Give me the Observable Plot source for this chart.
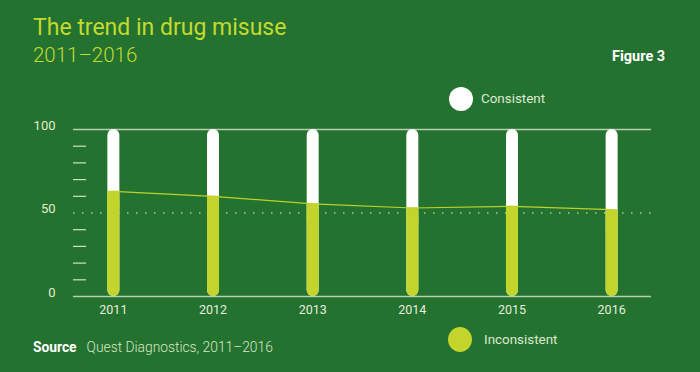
<!DOCTYPE html>
<html>
<head>
<meta charset="utf-8">
<script src="https://cdn.jsdelivr.net/npm/d3@7"></script>
<script src="https://cdn.jsdelivr.net/npm/@observablehq/plot@0.6"></script>
<style>
  html, body { margin: 0; padding: 0; }
  body { width: 700px; height: 372px; overflow: hidden; }
  #wrap { position: relative; width: 700px; height: 372px; background: #23722f; font-family: Roboto, "Noto Sans", sans-serif; }
  #chart { position: absolute; left: 0; top: 0; }
  .abs { position: absolute; white-space: nowrap; }
  #title { left: 33px; top: 15px; font-size: 23px; color: #c5d930; line-height: 26px; }
  #subtitle { left: 33px; top: 42px; font-size: 20.5px; font-weight: 300; color: #c5d930; line-height: 26px; }
  #fig { left: 612px; top: 48px; font-size: 14.5px; font-weight: 700; color: #ffffff; line-height: 18px; }
  #source { left: 33px; top: 338px; font-size: 13.8px; color: #d9e6c6; line-height: 18px; }
  #source b { color: #ffffff; font-weight: 700; margin-right: 10px; }
  #source span { font-weight: 300; }
  .leg { font-size: 13.4px; color: #dfe9d2; line-height: 16px; }
  .dot { position: absolute; border-radius: 50%; }
</style>
</head>
<body>
<div id="wrap">
  <div id="chart"></div>
  <div id="title" class="abs">The trend in drug misuse</div>
  <div id="subtitle" class="abs">2011–2016</div>
  <div id="fig" class="abs">Figure 3</div>
  <div class="dot" style="left:449px;top:87px;width:24px;height:24px;background:#ffffff"></div>
  <div class="abs leg" style="left:481px;top:91px">Consistent</div>
  <div class="dot" style="left:448px;top:327px;width:24px;height:25px;background:#c3d52c"></div>
  <div class="abs leg" style="left:484px;top:332px">Inconsistent</div>
  <div id="source" class="abs"><b>Source</b><span>Quest Diagnostics, 2011–2016</span></div>
</div>
<script>
const years = [2011, 2012, 2013, 2014, 2015, 2016];
const inconsistent = [63, 60, 55.5, 53, 54, 52];
const axisLabels = [0, 50, 100];
const minorTicks = [10, 20, 30, 40, 60, 70, 80, 90];

const data = years.map((y, i) => ({year: y, value: inconsistent[i]}));

const lime = "#c3d52c";
const chart = Plot.plot({
  width: 700,
  height: 372,
  marginLeft: 73,
  marginRight: 49,
  marginTop: 129,
  marginBottom: 76,
  style: {background: "transparent", fontFamily: "Roboto, 'Noto Sans', sans-serif"},
  x: {domain: [2010.6, 2016.4], axis: null, label: null},
  y: {domain: [0, 100], axis: null, label: null},
  marks: [
    Plot.ruleY([0, 100], {stroke: "#b9cfae", strokeWidth: 1.5}),
    Plot.ruleY([50], {stroke: "#a9c99a", strokeWidth: 1.5, strokeDasharray: "1.5,7.5"}),
    Plot.axisY({ticks: minorTicks, tickSize: -13, tickFormat: () => "", label: null, stroke: "#d2e2c4", strokeWidth: 1.2}),
    Plot.axisY({ticks: axisLabels, tickSize: 0, tickPadding: 18, dy: -4, fontSize: 13, label: null, fill: "#e3ecc6", tickFormat: d => String(d)}),
    Plot.axisX({ticks: years, tickSize: 0, tickPadding: 9, fontSize: 12.5, label: null, fill: "#e6eedc", tickFormat: d => String(d)}),
    Plot.ruleX(data, {x: "year", y1: 100, y2: 0, stroke: "#ffffff", strokeWidth: 12, strokeLinecap: "round", insetTop: 6, insetBottom: 6}),
    Plot.ruleX(data, {x: "year", y1: "value", y2: 0, stroke: lime, strokeWidth: 12, strokeLinecap: "round", insetTop: 8, insetBottom: 6}),
    Plot.ruleX(data, {x: "year", y1: "value", y2: d => d.value - 10, stroke: lime, strokeWidth: 12, strokeLinecap: "butt"}),
    Plot.line(data, {x: "year", y: "value", stroke: "#bcd22c", strokeWidth: 1.2})
  ]
});
document.getElementById("chart").appendChild(chart);
</script>
</body>
</html>
